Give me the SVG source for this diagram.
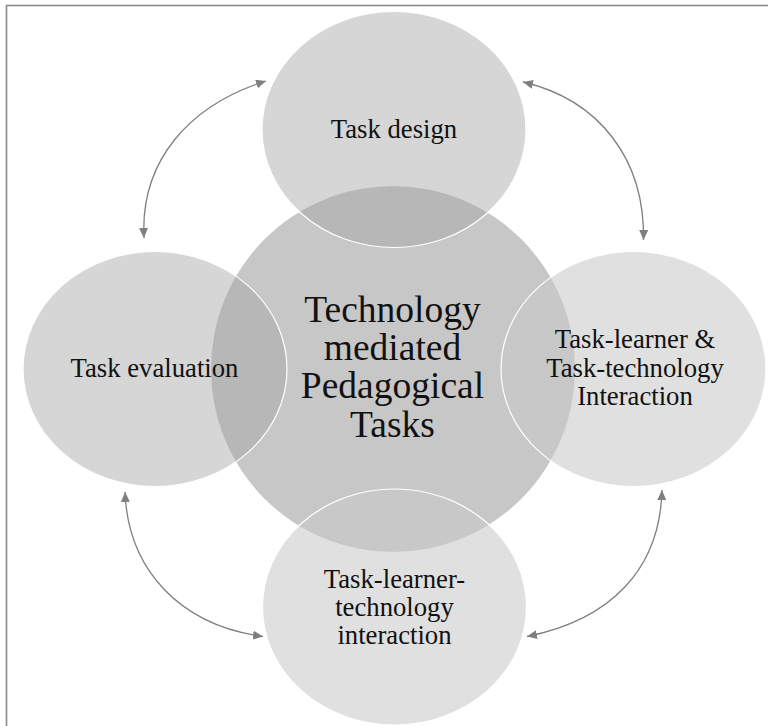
<svg xmlns="http://www.w3.org/2000/svg" width="768" height="726" viewBox="0 0 768 726">
<style>
.t{font-family:"Liberation Serif","Times New Roman",serif;font-size:26.7px;fill:#111;text-anchor:middle}
.c{font-size:37.5px}
.sat{stroke:#ffffff;stroke-width:1.2}
.dk{fill:#a5a5a5;fill-opacity:0.45}
.lt{fill:#cacaca;fill-opacity:0.58}
.arr{fill:none;stroke:#7f7f7f;stroke-width:1.3;marker-start:url(#ah);marker-end:url(#ah)}
</style>
<defs>
<marker id="ah" markerUnits="userSpaceOnUse" markerWidth="11" markerHeight="9" refX="10" refY="4.5" orient="auto-start-reverse">
<path d="M0,0 L10,4.5 L0,9 z" fill="#7f7f7f"/>
</marker>
</defs>
<rect x="0" y="0" width="768" height="726" fill="#ffffff"/>
<rect x="6.5" y="5.5" width="800" height="800" fill="none" stroke="#8a8a8a" stroke-width="1.6"/>
<g id="center">
<ellipse cx="393" cy="369" rx="182" ry="183" fill="#c7c7c7"/>
</g>
<g id="task-design">
<ellipse class="sat dk" cx="394" cy="129.5" rx="132" ry="118"/>
<text class="t" x="394" y="137.5">Task design</text>
</g>
<g id="task-evaluation">
<ellipse class="sat dk" cx="155" cy="369" rx="132" ry="117.5"/>
<text class="t" x="154.5" y="376.5">Task evaluation</text>
</g>
<g id="task-interaction">
<ellipse class="sat lt" cx="633.5" cy="369" rx="132.5" ry="117.5"/>
<text class="t" x="635" y="348.3">Task-learner &amp;</text>
<text class="t" x="635" y="376.6">Task-technology</text>
<text class="t" x="635" y="405">Interaction</text>
</g>
<g id="task-learner-technology">
<ellipse class="sat lt" cx="394.5" cy="607" rx="132" ry="118"/>
<text class="t" x="394.5" y="587.7">Task-learner-</text>
<text class="t" x="394.5" y="615.7">technology</text>
<text class="t" x="394.5" y="643.5">interaction</text>
</g>
<g id="center-label">
<text class="t c" x="392.5" y="321.5">Technology</text>
<text class="t c" x="392.5" y="359.8">mediated</text>
<text class="t c" x="392.5" y="398">Pedagogical</text>
<text class="t c" x="392.5" y="436.5">Tasks</text>
</g>
<g id="connectors">
<path class="arr" d="M144,238 C140,160 190,105 266,81"/>
<path class="arr" d="M523,82 C600,100 645,160 643.5,240"/>
<path class="arr" d="M125,492 C128,570 180,625 263,636.5"/>
<path class="arr" d="M662,490 C660,570 610,620 527,636.5"/>
</g>
</svg>
